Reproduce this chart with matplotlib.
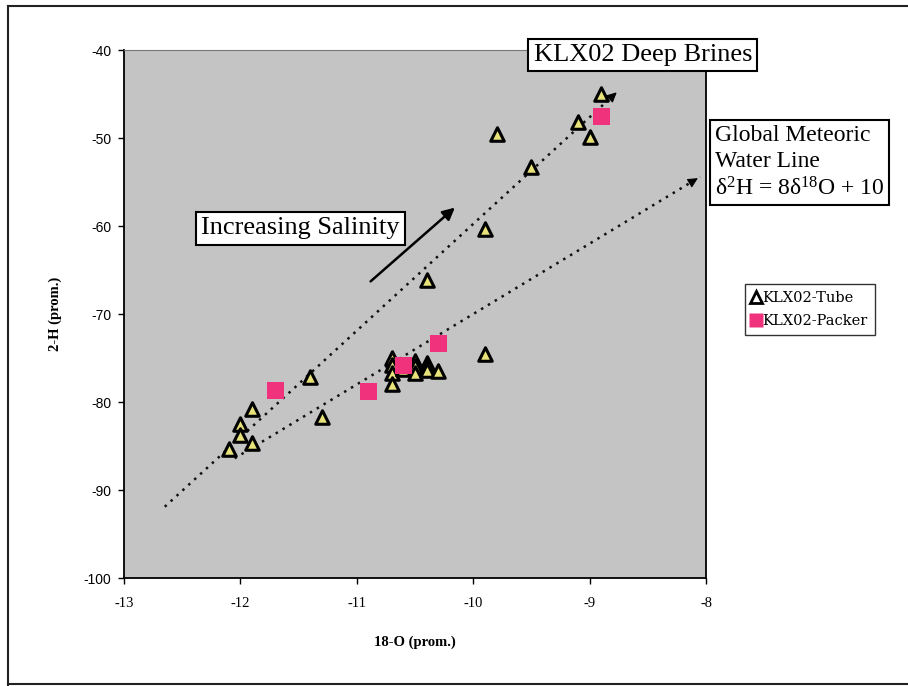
import numpy as np
import matplotlib.pyplot as plt
from matplotlib.lines import Line2D

# KLX02 tube samples (18-O, 2-H)
tube_o = [-12.1, -12.0, -12.0, -11.9, -11.9, -11.4, -11.3,
          -10.7, -10.7, -10.7, -10.7, -10.6, -10.6, -10.5, -10.5, -10.5,
          -10.4, -10.4, -10.4, -10.3, -10.4, -9.9, -9.9, -9.8, -9.5,
          -9.1, -9.0, -8.9]
tube_h = [-85.3, -82.5, -83.8, -80.8, -84.7, -77.2, -81.7,
          -75.0, -75.8, -76.7, -77.9, -76.0, -76.3, -75.3, -75.9, -76.7,
          -75.6, -76.0, -76.4, -76.5, -66.1, -60.3, -74.5, -49.5, -53.3,
          -48.2, -49.9, -45.0]

# KLX02 packer samples
packer_o = [-11.7, -10.9, -10.6, -10.3, -8.9]
packer_h = [-78.7, -78.8, -75.9, -73.4, -47.5]

# trend lines
brine_o = [-12.65, -8.75]
brine_h = [-91.9, -44.6]
gmwl_o = np.array([-12.05, -8.05])
gmwl_h = 8 * gmwl_o + 10

serif = 'Liberation Serif'
sans = 'Liberation Sans'

plt.rcParams['axes.unicode_minus'] = False
plt.rcParams['mathtext.fontset'] = 'custom'
plt.rcParams['mathtext.rm'] = serif
plt.rcParams['mathtext.it'] = serif
plt.rcParams['mathtext.default'] = 'regular'

fig = plt.figure(figsize=(9.08, 6.86), dpi=100)
ax = fig.add_axes([0.1366, 0.1574, 0.641, 0.7697])
ax.set_facecolor('#c4c4c4')

# dotted lines with arrow heads
ax.plot(brine_o, brine_h, color='#111111', ls=(0, (1, 2.2)), lw=1.8, zorder=2)
ax.plot(gmwl_o, gmwl_h, color='#111111', ls=(0, (1, 2.2)), lw=1.8, zorder=2)
for xo, yo in [(brine_o, brine_h), (gmwl_o, gmwl_h)]:
    slope = (yo[1] - yo[0]) / (xo[1] - xo[0])
    ax.annotate('', xy=(xo[1], yo[1]), xytext=(xo[1] - 0.08, yo[1] - 0.08 * slope),
                arrowprops=dict(arrowstyle='-|>', color='black', lw=0.8, mutation_scale=15),
                zorder=3)

ax.scatter(tube_o, tube_h, marker='^', s=95, facecolor='#e8e27a', edgecolor='black',
           linewidth=2.2, zorder=4)
ax.scatter(packer_o, packer_h, marker='s', s=150, facecolor='#f0327c', edgecolor='none',
           zorder=5)

# increasing salinity arrow
ax.annotate('', xy=(-10.14, -57.7), xytext=(-10.9, -66.5),
            arrowprops=dict(arrowstyle='-|>', color='black', lw=1.8, mutation_scale=18),
            zorder=6)

ax.set_xlim(-13, -8)
ax.set_ylim(-100, -40)
ax.set_xticks(np.arange(-13, -7, 1))
ax.set_yticks(np.arange(-100, -39, 10))
ax.tick_params(direction='out', length=4, width=1, colors='black')
for lab in ax.get_xticklabels():
    lab.set_family(serif)
    lab.set_fontsize(10.5)
for lab in ax.get_yticklabels():
    lab.set_family(sans)
    lab.set_fontsize(10)
ax.tick_params(axis='x', pad=10)
ax.tick_params(axis='y', pad=5)

ax.spines['top'].set_color('#777777')
ax.spines['left'].set_linewidth(1.3)
ax.spines['bottom'].set_linewidth(1.3)
ax.spines['right'].set_linewidth(1.3)

ax.set_xlabel('18-O (prom.)', family=serif, fontsize=10.5, fontweight='bold', labelpad=18)
ax.set_ylabel('2-H (prom.)', family=serif, fontsize=10.5, fontweight='bold', labelpad=16)

box = dict(boxstyle='square,pad=0.2', facecolor='white', edgecolor='black', lw=1.5)
fig.text(0.708, 0.920, 'KLX02 Deep Brines', family=serif, fontsize=19,
         ha='center', va='center', bbox=box)
fig.text(0.331, 0.667, 'Increasing Salinity', family=serif, fontsize=19,
         ha='center', va='center', bbox=box)
fig.text(0.787, 0.763, 'Global Meteoric\nWater Line\nδ$^2$H = 8δ$^{18}$O + 10',
         family=serif, fontsize=17, ha='left', va='center', linespacing=1.3,
         bbox=dict(boxstyle='square,pad=0.2', facecolor='white', edgecolor='black', lw=1.5))

handles = [Line2D([], [], marker='^', ls='none', markersize=9, markerfacecolor='white',
                  markeredgecolor='black', markeredgewidth=2),
           Line2D([], [], marker='s', ls='none', markersize=10, markerfacecolor='#f0327c',
                  markeredgecolor='none')]
leg = fig.legend(handles, ['KLX02-Tube', 'KLX02-Packer'], loc='center left',
                 bbox_to_anchor=(0.812, 0.549), prop={'family': 'DejaVu Serif', 'size': 10.5},
                 frameon=True, fancybox=False, edgecolor='black', handlelength=0.6,
                 handletextpad=0.1, borderpad=0.5, labelspacing=0.6)
leg.get_frame().set_linewidth(1.0)

# outer frame of the scanned figure
fig.add_artist(Line2D([0.009, 0.009], [0.0, 0.991], color='#222222', lw=1.5))
fig.add_artist(Line2D([0.009, 1.0], [0.991, 0.991], color='#222222', lw=1.5))
fig.add_artist(Line2D([0.009, 1.0], [0.003, 0.003], color='#222222', lw=1.5))

fig.savefig('out.png', dpi=100)
